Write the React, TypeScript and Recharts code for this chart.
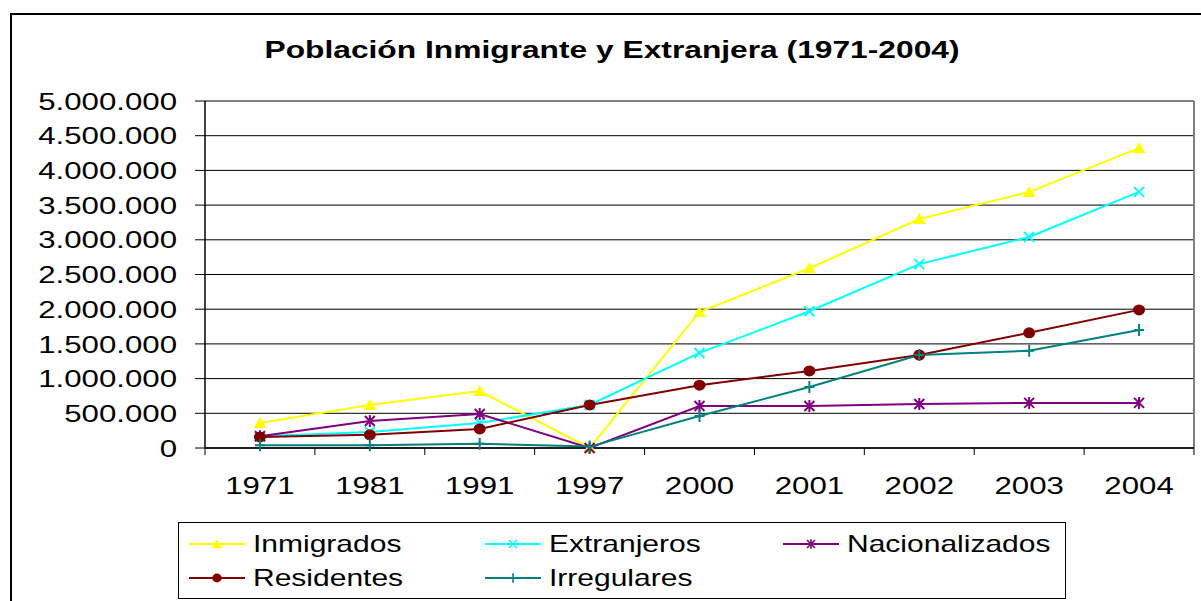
import React from "react";
import { LineChart, Line, XAxis, YAxis, CartesianGrid, ReferenceLine } from "recharts";

const years = ["1971", "1981", "1991", "1997", "2000", "2001", "2002", "2003", "2004"];
const inmigrados = [360000, 620000, 820000, 0, 1960000, 2590000, 3300000, 3690000, 4320000];
const extranjeros = [170000, 230000, 360000, 620000, 1370000, 1970000, 2650000, 3040000, 3690000];
const nacionalizados = [170000, 390000, 490000, 0, 605000, 606000, 634000, 650000, 650000];
const residentes = [160000, 190000, 275000, 620000, 905000, 1110000, 1340000, 1660000, 1990000];
const irregulares = [40000, 40000, 60000, 20000, 460000, 880000, 1340000, 1400000, 1700000];
const yTicks = [0, 500000, 1000000, 1500000, 2000000, 2500000, 3000000, 3500000, 4000000, 4500000, 5000000];

const FONT = "'Liberation Sans', Arial, sans-serif";
const STRETCH = 1.3;
const CHART_W = 1201;
const CHART_H = 601;
const MARGIN = { top: 101, right: 7, bottom: 103, left: 10 };
const Y_AXIS_W = 195;
const HALF = (CHART_W - MARGIN.left - MARGIN.right - Y_AXIS_W) / years.length / 2;

const data = years.map((year, i) => ({
  i,
  year,
  inmigrados: inmigrados[i],
  extranjeros: extranjeros[i],
  nacionalizados: nacionalizados[i],
  residentes: residentes[i],
  irregulares: irregulares[i],
}));

const xBounds = years.map((_, k) => k - 0.5).concat(years.length - 0.5);

const series = [
  { key: "inmigrados", name: "Inmigrados", color: "#FFFF00", shape: "tri" },
  { key: "extranjeros", name: "Extranjeros", color: "#00FFFF", shape: "x" },
  { key: "nacionalizados", name: "Nacionalizados", color: "#800080", shape: "star" },
  { key: "residentes", name: "Residentes", color: "#800000", shape: "dot" },
  { key: "irregulares", name: "Irregulares", color: "#008080", shape: "plus" },
];

const fmt = (v: number) => String(v).replace(/\B(?=(\d{3})+(?!\d))/g, ".");

const Marker = ({ shape, color, cx, cy, s = 1 }: any) => {
  if (cx == null || cy == null) return null;
  switch (shape) {
    case "tri":
      return <path d={`M${cx},${cy - 6 * s}L${cx + 6.5 * s},${cy + 5 * s}L${cx - 6.5 * s},${cy + 5 * s}Z`} fill={color} />;
    case "x":
      return (
        <path
          d={`M${cx - 5 * s},${cy - 5 * s}L${cx + 5 * s},${cy + 5 * s}M${cx - 5 * s},${cy + 5 * s}L${cx + 5 * s},${cy - 5 * s}`}
          stroke={color}
          strokeWidth={2 * s}
        />
      );
    case "star":
      return (
        <path
          d={`M${cx - 5 * s},${cy - 5 * s}L${cx + 5 * s},${cy + 5 * s}M${cx - 5 * s},${cy + 5 * s}L${cx + 5 * s},${cy - 5 * s}M${cx},${cy - 6 * s}L${cx},${cy + 6 * s}`}
          stroke={color}
          strokeWidth={2 * s}
        />
      );
    case "dot":
      return <ellipse cx={cx} cy={cy} rx={6 * s} ry={5.5 * s} fill={color} />;
    default:
      return (
        <path
          d={`M${cx - 5 * s},${cy}L${cx + 5 * s},${cy}M${cx},${cy - 6 * s}L${cx},${cy + 6 * s}`}
          stroke={color}
          strokeWidth={2 * s}
        />
      );
  }
};

const XTick = ({ x, y, payload }: any) => {
  const k = Math.round(payload.value + 0.5);
  return (
    <g>
      <line x1={x} x2={x} y1={y} y2={y + 7} stroke="#000" />
      {k < years.length && (
        <text
          x={0}
          y={0}
          transform={`translate(${x + HALF},${y + 46}) scale(${STRETCH},1)`}
          textAnchor="middle"
          fontFamily={FONT}
          fontSize={24}
          fill="#000"
        >
          {years[k]}
        </text>
      )}
    </g>
  );
};

const YTick = ({ x, y, payload }: any) => (
  <text
    x={0}
    y={0}
    transform={`translate(${x},${y + 8.6}) scale(${STRETCH},1)`}
    textAnchor="end"
    fontFamily={FONT}
    fontSize={24}
    fill="#000"
  >
    {fmt(payload.value)}
  </text>
);

const legendPos = [
  { left: 10, top: 9 },
  { left: 306, top: 9 },
  { left: 604, top: 9 },
  { left: 10, top: 43 },
  { left: 306, top: 43 },
];

export default function App() {
  return (
    <div style={{ position: "absolute", left: 0, top: 0, width: CHART_W, height: CHART_H, background: "#fff", overflow: "hidden", fontFamily: FONT }}>
      <div style={{ position: "absolute", left: 10, top: 13, width: 1200, height: 600, borderTop: "2px solid #000", borderLeft: "2px solid #000" }} />
      <div
        style={{
          position: "absolute",
          left: 612,
          top: 38.5,
          fontSize: 23,
          lineHeight: "23px",
          fontWeight: "bold",
          whiteSpace: "nowrap",
          transform: `translateX(-50%) scaleX(1.38)`,
        }}
      >
        Población Inmigrante y Extranjera (1971-2004)
      </div>
      <div style={{ position: "absolute", left: 0, top: 0 }}>
        <LineChart width={CHART_W} height={CHART_H} data={data} margin={MARGIN}>
          <CartesianGrid vertical={false} stroke="#000" />
          <ReferenceLine y={5000000} stroke="#808080" strokeWidth={2} />
          <ReferenceLine x={8.5} stroke="#808080" strokeWidth={2} />
          <XAxis
            dataKey="i"
            type="number"
            domain={[-0.5, 8.5]}
            ticks={xBounds}
            interval={0}
            tickLine={false}
            tickSize={0}
            tickMargin={0}
            tick={<XTick />}
            axisLine={{ stroke: "#000", strokeWidth: 1.5 }}
            height={50}
          />
          <YAxis
            domain={[0, 5000000]}
            ticks={yTicks}
            interval={0}
            width={Y_AXIS_W}
            tickSize={10}
            tickMargin={18}
            tickLine={{ stroke: "#000" }}
            axisLine={{ stroke: "#000", strokeWidth: 1.5 }}
            tick={<YTick />}
          />
          {series.map((s) => (
            <Line
              key={s.key}
              dataKey={s.key}
              name={s.name}
              type="linear"
              stroke={s.color}
              strokeWidth={2}
              isAnimationActive={false}
              dot={(p: any) => <Marker key={`${s.key}-${p.index}`} shape={s.shape} color={s.color} cx={p.cx} cy={p.cy} />}
              activeDot={false}
            />
          ))}
        </LineChart>
      </div>
      <div style={{ position: "absolute", left: 178, top: 522, width: 886, height: 75, border: "1px solid #000", background: "#fff" }}>
        {series.map((s, k) => (
          <div key={s.key} style={{ position: "absolute", left: legendPos[k].left, top: legendPos[k].top, height: 24, display: "flex", alignItems: "center" }}>
            <svg width={56} height={20} style={{ display: "block" }}>
              <line x1={0} x2={56} y1={10} y2={10} stroke={s.color} strokeWidth={2} />
              <Marker shape={s.shape} color={s.color} cx={28} cy={10} s={0.8} />
            </svg>
            <span style={{ marginLeft: 8, fontSize: 24, lineHeight: "24px", whiteSpace: "nowrap", display: "inline-block", transform: `scaleX(1.25)`, transformOrigin: "left center" }}>
              {s.name}
            </span>
          </div>
        ))}
      </div>
    </div>
  );
}
